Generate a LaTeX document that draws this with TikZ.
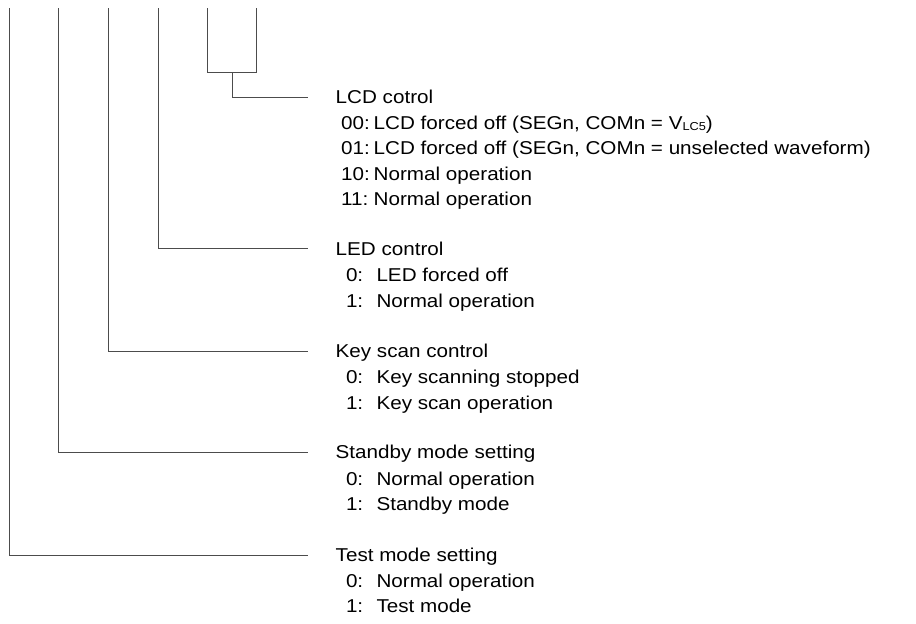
\documentclass[tikz,border=0pt]{standalone}
\usepackage{fontspec}
\setmainfont{Liberation Sans}[FakeStretch=1.11]
\newcommand{\lcdsub}[1]{\raisebox{-1.2pt}{\fontsize{11.5}{13}\selectfont #1}}
\begin{document}
\begin{tikzpicture}[
    x=1pt, y=-1pt,
    wire/.style={line width=1pt, draw=black!70},
    head/.style={anchor=west, inner sep=0pt, text height=13.3pt, text depth=0pt, font=\fontsize{18.6}{22}\selectfont},
    code/.style={head},
    item/.style={head}
]
\useasboundingbox (0,0) rectangle (916,624);

% bit lines
\coordinate (b0) at (9.3, 8);
\coordinate (b1) at (58.8, 8);
\coordinate (b2) at (108.5, 8);
\coordinate (b3) at (158, 8);
\coordinate (b4) at (207.3, 8);
\coordinate (b5) at (256.7, 8);
\coordinate (j) at (232.3, 72.7);

% LCD control
\node[head] (lcd) at (335.5, 97.3) {LCD cotrol};
\node[code] (lcd0c) at (341, 122.7) {00:};
\node[item] (lcd0) at (373.5, 122.7) {LCD forced off (SEGn, COMn = V\lcdsub{LC5})};
\node[code] (lcd1c) at (341, 148.1) {01:};
\node[item] (lcd1) at (373.5, 148.1) {LCD forced off (SEGn, COMn = unselected waveform)};
\node[code] (lcd2c) at (341, 173.5) {10:};
\node[item] (lcd2) at (373.5, 173.5) {Normal operation};
\node[code] (lcd3c) at (341, 198.9) {11:};
\node[item] (lcd3) at (373.5, 198.9) {Normal operation};

% LED control
\node[head] (led) at (335.5, 248.7) {LED control};
\node[code] (led0c) at (345.8, 274.6) {0:};
\node[item] (led0) at (376.3, 274.6) {LED forced off};
\node[code] (led1c) at (345.8, 300.5) {1:};
\node[item] (led1) at (376.3, 300.5) {Normal operation};

% Key scan control
\node[head] (key) at (335.5, 351) {Key scan control};
\node[code] (key0c) at (345.8, 377) {0:};
\node[item] (key0) at (376.3, 377) {Key scanning stopped};
\node[code] (key1c) at (345.8, 402.6) {1:};
\node[item] (key1) at (376.3, 402.6) {Key scan operation};

% Standby mode setting
\node[head] (stby) at (335.5, 452.3) {Standby mode setting};
\node[code] (stby0c) at (345.8, 478.5) {0:};
\node[item] (stby0) at (376.3, 478.5) {Normal operation};
\node[code] (stby1c) at (345.8, 504) {1:};
\node[item] (stby1) at (376.3, 504) {Standby mode};

% Test mode setting
\node[head] (test) at (335.5, 555) {Test mode setting};
\node[code] (test0c) at (345.8, 580.8) {0:};
\node[item] (test0) at (376.3, 580.8) {Normal operation};
\node[code] (test1c) at (345.8, 605.8) {1:};
\node[item] (test1) at (376.3, 605.8) {Test mode};

\draw[wire] (b4) |- (j) -| (b5);
\draw[wire, shorten >=28pt] (j) |- (lcd);
\draw[wire, shorten >=28pt] (b3) |- (led);
\draw[wire, shorten >=28pt] (b2) |- (key);
\draw[wire, shorten >=28pt] (b1) |- (stby);
\draw[wire, shorten >=28pt] (b0) |- (test);
\end{tikzpicture}
\end{document}
